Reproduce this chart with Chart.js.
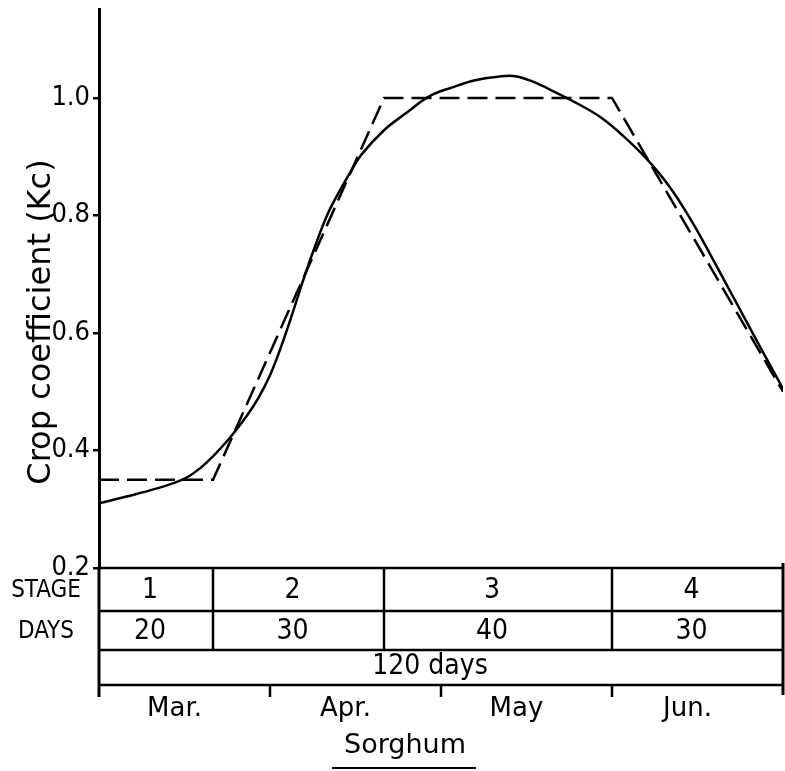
<!DOCTYPE html>
<html>
<head>
<meta charset="utf-8">
<script src="https://cdn.jsdelivr.net/npm/chart.js@4/dist/chart.umd.min.js"></script>
<style>
  html, body { margin: 0; padding: 0; background: #fff; overflow: hidden; }
  canvas { display: block; }
</style>
</head>
<body>
<canvas id="c" width="785" height="771"></canvas>
<script>
// ---- data ----
const curveDays = [0, 5, 10, 15, 18, 20, 23, 26, 28, 30, 32, 34, 36, 38, 40, 42, 44, 46, 50, 54, 58, 62, 66, 70, 73, 76, 80, 84, 88, 92, 96, 100, 104, 108, 112, 116, 120];
const curveKc   = [0.31, 0.322, 0.335, 0.352, 0.372, 0.39, 0.422, 0.46, 0.49, 0.528, 0.578, 0.635, 0.695, 0.75, 0.80, 0.838, 0.872, 0.903, 0.945, 0.975, 1.003, 1.018, 1.03, 1.036, 1.037, 1.028, 1.01, 0.99, 0.967, 0.935, 0.897, 0.85, 0.79, 0.72, 0.648, 0.576, 0.505];
const stepDays  = [0, 20, 50, 90, 120];
const stepKc    = [0.35, 0.35, 1.0, 1.0, 0.5];
const yTicks    = [0.2, 0.4, 0.6, 0.8, 1.0];
const stages    = ['1', '2', '3', '4'];
const stageDays = [20, 30, 40, 30];
const totalDaysLabel = '120 days';
const months    = ['Mar.', 'Apr.', 'May', 'Jun.'];
const monthBounds = [0, 30, 60, 90, 120];
const yTitle    = 'Crop coefficient (Kc)';
const xTitle    = 'Sorghum';
const rowLabels = ['STAGE', 'DAYS'];

const COND = '"DejaVu Sans Condensed", "DejaVu Sans", sans-serif';
const REG = '"DejaVu Sans", sans-serif';

const tablePlugin = {
  id: 'tablePlugin',
  afterDraw(chart) {
    const { ctx, chartArea, scales } = chart;
    const x = scales.x;
    const { left, right, bottom } = chartArea;
    const r0 = bottom, r1 = bottom + 43, r2 = bottom + 82, r3 = bottom + 117;
    ctx.save();
    ctx.strokeStyle = '#000';
    ctx.fillStyle = '#000';
    ctx.lineWidth = 2.5;
    ctx.lineCap = 'butt';
    [r0, r1, r2, r3].forEach(yy => {
      ctx.beginPath(); ctx.moveTo(left, yy); ctx.lineTo(right, yy); ctx.stroke();
    });
    ctx.lineWidth = 3;
    ctx.beginPath(); ctx.moveTo(left, bottom); ctx.lineTo(left, r3 + 12); ctx.stroke();
    ctx.beginPath(); ctx.moveTo(right, bottom - 5); ctx.lineTo(right, r3 + 10); ctx.stroke();
    ctx.lineWidth = 2.5;
    let cum = 0;
    const bounds = [0];
    stageDays.forEach(d => { cum += d; bounds.push(cum); });
    bounds.slice(1, -1).forEach(b => {
      const px = x.getPixelForValue(b);
      ctx.beginPath(); ctx.moveTo(px, r0); ctx.lineTo(px, r2); ctx.stroke();
    });
    monthBounds.slice(1, -1).forEach(m => {
      const px = x.getPixelForValue(m);
      ctx.beginPath(); ctx.moveTo(px, r3); ctx.lineTo(px, r3 + 12); ctx.stroke();
    });
    ctx.textAlign = 'center';
    ctx.textBaseline = 'middle';
    ctx.font = '28px ' + COND;
    for (let i = 0; i < stages.length; i++) {
      const cx = (x.getPixelForValue(bounds[i]) + x.getPixelForValue(bounds[i + 1])) / 2 - 6;
      ctx.fillText(stages[i], cx, (r0 + r1) / 2 + 1);
      ctx.fillText(String(stageDays[i]), cx, (r1 + r2) / 2 + 1);
    }
    ctx.fillText(totalDaysLabel, (left + right) / 2 - 11, (r2 + r3) / 2 - 1);
    ctx.font = '24px ' + COND;
    ctx.fillText(rowLabels[0], 46, (r0 + r1) / 2 + 1);
    ctx.fillText(rowLabels[1], 46, (r1 + r2) / 2 + 1);
    ctx.font = '26px ' + REG;
    for (let i = 0; i < months.length; i++) {
      const cx = (x.getPixelForValue(monthBounds[i]) + x.getPixelForValue(monthBounds[i + 1])) / 2 - 10;
      ctx.fillText(months[i], cx, r3 + 24);
    }
    ctx.font = '27px ' + REG;
    const tx = 405, ty = 746;
    ctx.fillText(xTitle, tx, ty);
    const w = ctx.measureText(xTitle).width;
    ctx.lineWidth = 2;
    ctx.beginPath(); ctx.moveTo(tx - w / 2 - 12, ty + 22); ctx.lineTo(tx + w / 2 + 10, ty + 22); ctx.stroke();
    ctx.save();
    ctx.translate(42, 322);
    ctx.rotate(-Math.PI / 2);
    ctx.font = '32px ' + REG;
    ctx.fillText(yTitle, 0, 0);
    ctx.restore();
    ctx.restore();
  }
};

new Chart(document.getElementById('c'), {
  type: 'line',
  data: {
    datasets: [
      {
        label: 'Kc curve',
        data: curveDays.map((d, i) => ({ x: d, y: curveKc[i] })),
        borderColor: '#000',
        borderWidth: 2.5,
        pointRadius: 0,
        tension: 0.4,
        fill: false
      },
      {
        label: 'Kc stages',
        data: stepDays.map((d, i) => ({ x: d, y: stepKc[i] })),
        borderColor: '#000',
        borderWidth: 2.5,
        borderDash: [20, 8],
        pointRadius: 0,
        tension: 0,
        fill: false
      }
    ]
  },
  options: {
    responsive: false,
    animation: false,
    layout: { padding: { left: 0, right: 2, top: 8, bottom: 203 } },
    plugins: { legend: { display: false }, tooltip: { enabled: false } },
    scales: {
      x: {
        type: 'linear', min: 0, max: 120, display: false
      },
      y: {
        type: 'linear', min: 0.2, max: 1.15,
        afterFit(scale) { scale.width = 99; },
        afterBuildTicks(scale) { scale.ticks = yTicks.map(v => ({ value: v })); },
        grid: { drawOnChartArea: false, color: '#000', lineWidth: 2.5, tickLength: 6 },
        border: { display: true, color: '#000', width: 3 },
        ticks: {
          color: '#000',
          padding: 3,
          font: { family: COND, size: 27, lineHeight: 0.5 },
          callback: v => Number(v).toFixed(1)
        }
      }
    }
  },
  plugins: [tablePlugin]
});
</script>
</body>
</html>
